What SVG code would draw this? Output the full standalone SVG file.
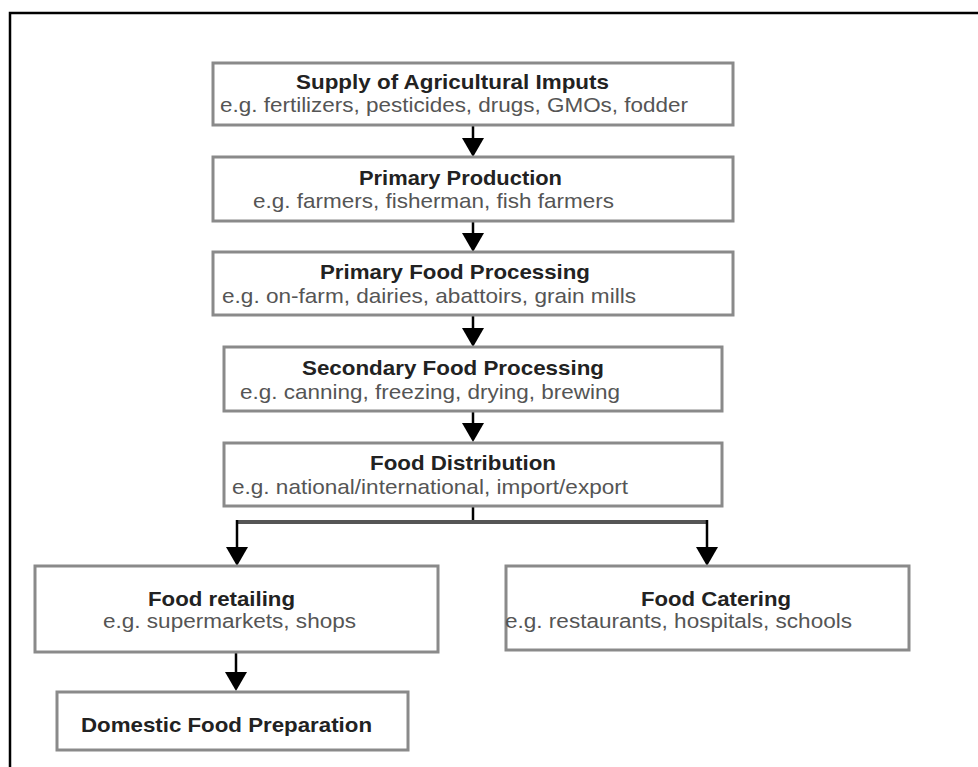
<svg xmlns="http://www.w3.org/2000/svg" width="978" height="767" viewBox="0 0 978 767">
<style>
.box{fill:#fff;stroke:#8a8a8a;stroke-width:3}
.t{font-family:"Liberation Sans",Arial,sans-serif;font-size:21px;font-weight:bold;fill:#222}
.s{font-family:"Liberation Sans",Arial,sans-serif;font-size:21px;fill:#555}
.sm{font-size:20px}
.c{fill:none;stroke:#000;stroke-width:2.5}
.h{fill:none;stroke:#555;stroke-width:4}
.frame{fill:none;stroke:#000;stroke-width:2.5}
</style>
<defs>
<marker id="ah" markerUnits="userSpaceOnUse" markerWidth="20" markerHeight="22" viewBox="0 0 20 22" refX="0" refY="11" orient="auto">
<path d="M0,0 L19,11 L0,22 z" fill="#000"/>
</marker>
</defs>
<rect width="978" height="767" fill="#fff"/>
<path class="frame" d="M10,767 V13 H978"/>
<g id="connectors">
<line class="c" x1="473" y1="125" x2="473" y2="138" marker-end="url(#ah)"/>
<line class="c" x1="473" y1="221" x2="473" y2="233" marker-end="url(#ah)"/>
<line class="c" x1="473" y1="315" x2="473" y2="328" marker-end="url(#ah)"/>
<line class="c" x1="473" y1="411" x2="473" y2="423" marker-end="url(#ah)"/>
<line class="c" x1="473" y1="506" x2="473" y2="522"/>
<path class="h" d="M237,522 H707"/>
<line class="c" x1="237" y1="520" x2="237" y2="547" marker-end="url(#ah)"/>
<line class="c" x1="707" y1="520" x2="707" y2="547" marker-end="url(#ah)"/>
<line class="c" x1="236" y1="652" x2="236" y2="672" marker-end="url(#ah)"/>
</g>
<g id="supply">
<rect class="box" x="213" y="63" width="520" height="62"/>
<text class="t" x="296" y="88.5" textLength="313" lengthAdjust="spacingAndGlyphs">Supply of Agricultural Imputs</text>
<text class="s" x="220" y="112" textLength="468" lengthAdjust="spacingAndGlyphs">e.g. fertilizers, pesticides, drugs, GMOs, fodder</text>
</g>
<g id="primary-production">
<rect class="box" x="213" y="157" width="520" height="64"/>
<text class="t" x="359" y="184.5" textLength="203" lengthAdjust="spacingAndGlyphs">Primary Production</text>
<text class="s" x="253" y="207.5" textLength="361" lengthAdjust="spacingAndGlyphs">e.g. farmers, fisherman, fish farmers</text>
</g>
<g id="primary-processing">
<rect class="box" x="213" y="252" width="520" height="63"/>
<text class="t" x="320" y="278.5" textLength="270" lengthAdjust="spacingAndGlyphs">Primary Food Processing</text>
<text class="s" x="222" y="303" textLength="414" lengthAdjust="spacingAndGlyphs">e.g. on-farm, dairies, abattoirs, grain mills</text>
</g>
<g id="secondary-processing">
<rect class="box" x="224" y="347" width="498" height="64"/>
<text class="t" x="302" y="374.5" textLength="302" lengthAdjust="spacingAndGlyphs">Secondary Food Processing</text>
<text class="s" x="240" y="398.5" textLength="380" lengthAdjust="spacingAndGlyphs">e.g. canning, freezing, drying, brewing</text>
</g>
<g id="distribution">
<rect class="box" x="224" y="443" width="498" height="63"/>
<text class="t" x="370" y="469.5" textLength="186" lengthAdjust="spacingAndGlyphs">Food Distribution</text>
<text class="s" x="232" y="494" textLength="396" lengthAdjust="spacingAndGlyphs">e.g. national/international, import/export</text>
</g>
<g id="retailing">
<rect class="box" x="35" y="566" width="403" height="86"/>
<text class="t sm" x="148" y="606" textLength="147" lengthAdjust="spacingAndGlyphs">Food retailing</text>
<text class="s sm" x="103" y="628" textLength="253" lengthAdjust="spacingAndGlyphs">e.g. supermarkets, shops</text>
</g>
<g id="catering">
<rect class="box" x="506" y="566" width="403" height="84"/>
<text class="t sm" x="641" y="606" textLength="150" lengthAdjust="spacingAndGlyphs">Food Catering</text>
<text class="s sm" x="505" y="628" textLength="347" lengthAdjust="spacingAndGlyphs">e.g. restaurants, hospitals, schools</text>
</g>
<g id="domestic">
<rect class="box" x="57" y="692" width="351" height="58"/>
<text class="t" x="81" y="732" textLength="291" lengthAdjust="spacingAndGlyphs">Domestic Food Preparation</text>
</g>
</svg>
